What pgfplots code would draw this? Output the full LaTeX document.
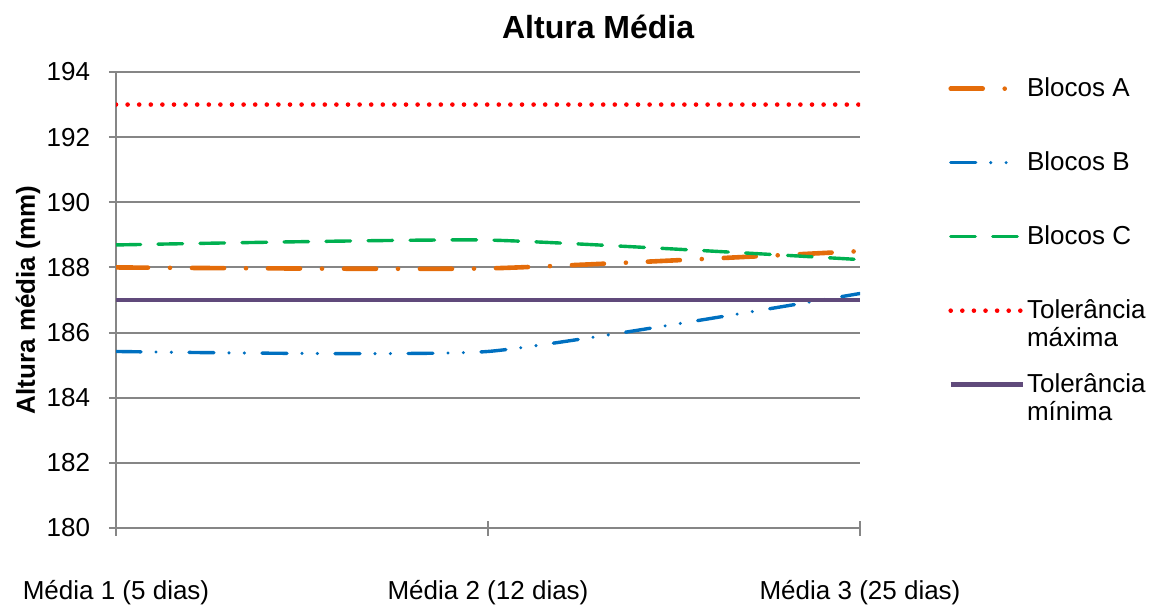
\documentclass[border=0pt]{standalone}
\usepackage{fontspec}
\setmainfont{Liberation Sans}
\usepackage{pgfplots}
\pgfplotsset{compat=1.18}

\definecolor{blocoA}{HTML}{E46C0A}
\definecolor{blocoB}{HTML}{0070C0}
\definecolor{blocoC}{HTML}{00B050}
\definecolor{tolmax}{HTML}{FF0000}
\definecolor{tolmin}{HTML}{604A7B}
\definecolor{gridgray}{HTML}{868686}

% two-line legend text whose baseline is the first line
\newcommand{\twolines}[2]{\vtop{\hbox{#1}\hbox{#2}}}

\begin{document}
\begin{tikzpicture}
\begin{axis}[
    at={(0,0)}, anchor=south west,
    scale only axis,
    width=372bp, height=228bp,
    xmin=0, xmax=2,
    ymin=180, ymax=194,
    xtick={0,1,2},
    xticklabels={Média 1 (5 dias), Média 2 (12 dias), Média 3 (25 dias)},
    ytick={180,182,...,194},
    ymajorgrids=true,
    grid style={gridgray, line width=1bp},
    axis line style={gridgray, line width=1bp},
    axis x line*=bottom,
    axis y line*=left,
    separate axis lines,
    x axis line style={-},
    y axis line style={-},
    tick style={gridgray, line width=1bp},
    ytick style={/pgfplots/major tick length=3.5bp},
    xtick style={/pgfplots/major tick length=7.5bp},
    ytick align=outside,
    xtick align=center,
    /pgf/number format/assume math mode=true,
    /pgf/number format/1000 sep={},
    ticklabel style={font=\fontsize{13bp}{15.6bp}\selectfont, black},
    yticklabel style={anchor=east, inner sep=0pt, xshift=-8.5bp},
    xticklabel style={anchor=north, inner sep=0pt, yshift=-24bp},
    ylabel={Altura média (mm)},
    ylabel style={at={(axis description cs:-0.1183,0.5)}, anchor=center, rotate=0,
        font=\bfseries\fontsize{13bp}{15.6bp}\selectfont},
    title={Altura Média},
    title style={at={(axis description cs:0.648,1.0724)}, anchor=center,
        font=\bfseries\fontsize{16bp}{19bp}\selectfont},
    legend image code/.code={\draw[#1] (0bp,0.6bp) -- (36bp,0.6bp);},
    legend cell align=left,
    legend style={at={(axis description cs:1.1183,0.988)}, anchor=north west,
        draw=none, fill=none, inner sep=0pt, row sep=25bp, column sep=1bp,
        font=\fontsize{13bp}{14bp}\selectfont,
        nodes={inner sep=0pt, text height=9.5bp, text depth=2.5bp}},
]

% Blocos A
\addplot[blocoA, line width=2.3bp, line cap=round, smooth, tension=0.3,
    dash pattern=on 16bp off 11bp on 0bp off 11bp]
    coordinates {(0,188.0) (1,187.97) (2,188.5)};
\addlegendentry{Blocos A}

% Blocos B
\addplot[blocoB, line width=1.7bp, line cap=round, smooth, tension=0.3,
    dash pattern=on 12.5bp off 7.5bp on 0bp off 7.7bp on 0bp off 8.8bp]
    coordinates {(0,185.42) (1,185.42) (2,187.2)};
\addlegendentry{Blocos B}

% Blocos C
\addplot[blocoC, line width=1.7bp, line cap=round, smooth, tension=0.3,
    dash pattern=on 12.3bp off 8.7bp]
    coordinates {(0,188.69) (1,188.84) (2,188.24)};
\addlegendentry{Blocos C}

% Tolerancia maxima
\addplot[tolmax, line width=2.3bp, line cap=round,
    dash pattern=on 0bp off 5.8bp]
    coordinates {(0,193) (1,193) (2,193)};
\addlegendentry{\twolines{Tolerância}{máxima}}

% Tolerancia minima
\addplot[tolmin, line width=2.3bp]
    coordinates {(0,187) (1,187) (2,187)};
\addlegendentry{\twolines{Tolerância}{mínima}}

\end{axis}
\pgfresetboundingbox
\path[use as bounding box] (-58bp,-40bp) rectangle (522.5bp,264bp);
\end{tikzpicture}
\end{document}
